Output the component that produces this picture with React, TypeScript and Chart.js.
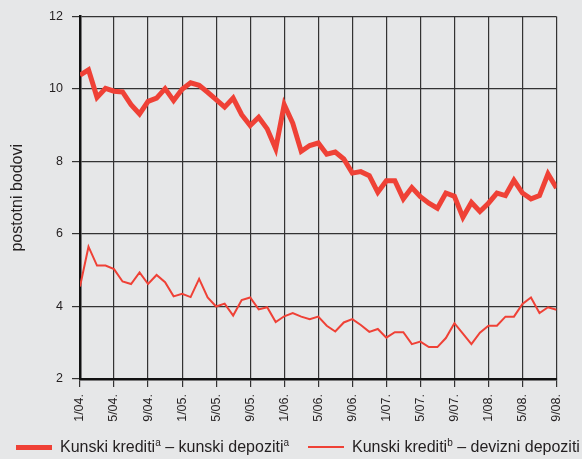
import React, { useEffect, useRef } from "react";
import { Chart, registerables } from "chart.js";

Chart.register(...registerables);

// Monthly data, 1/04 .. 9/08 (57 months)
const kunKun: number[] = [
  10.38, 10.53, 9.77, 10.02, 9.94, 9.92, 9.57, 9.31, 9.66, 9.75, 10.01, 9.68,
  9.99, 10.17, 10.1, 9.91, 9.71, 9.5, 9.75, 9.29, 8.99, 9.22, 8.9, 8.35,
  9.57, 9.06, 8.28, 8.44, 8.51, 8.2, 8.26, 8.07, 7.68, 7.72, 7.61, 7.15,
  7.47, 7.47, 6.97, 7.28, 7.03, 6.85, 6.71, 7.13, 7.04, 6.46, 6.87, 6.62,
  6.85, 7.13, 7.06, 7.48, 7.13, 6.97, 7.06, 7.66, 7.27,
];

const kunDev: number[] = [
  4.55, 5.65, 5.13, 5.13, 5.03, 4.69, 4.62, 4.94, 4.62, 4.87, 4.67, 4.28,
  4.35, 4.26, 4.76, 4.25, 4.0, 4.08, 3.75, 4.18, 4.25, 3.92, 3.98, 3.57,
  3.73, 3.82, 3.72, 3.65, 3.72, 3.47, 3.31, 3.56, 3.65, 3.49, 3.3, 3.38,
  3.14, 3.29, 3.29, 2.96, 3.03, 2.88, 2.88, 3.13, 3.54, 3.25, 2.96, 3.28,
  3.47, 3.47, 3.72, 3.72, 4.07, 4.25, 3.82, 3.98, 3.91,
];

// x tick labels, one every 4 months
const tickLabels: string[] = [
  "1/04.", "5/04.", "9/04.", "1/05.", "5/05.", "9/05.", "1/06.", "5/06.",
  "9/06.", "1/07.", "5/07.", "9/07.", "1/08.", "5/08.", "9/08.",
];

const seriesNames = ["Kunski krediti", "Kunski krediti"];

const BG = "rgb(230,231,232)";
const RED = "#ef4136";
const GRID = "#333333";
const TEXT = "#231f20";
const FONT = "'Liberation Sans', Arial, Helvetica, sans-serif";

export default function App() {
  const ref = useRef<HTMLCanvasElement | null>(null);

  useEffect(() => {
    document.body.style.margin = "0";
    document.body.style.background = BG;
    if (!ref.current) return;
    const chart = new Chart(ref.current, {
      type: "line",
      data: {
        datasets: [
          {
            label: seriesNames[0],
            data: kunKun.map((v, i) => ({ x: i, y: v })),
            borderColor: RED,
            borderWidth: 5,
            pointRadius: 0,
            tension: 0,
            fill: false,
          },
          {
            label: seriesNames[1],
            data: kunDev.map((v, i) => ({ x: i, y: v })),
            borderColor: RED,
            borderWidth: 2,
            pointRadius: 0,
            tension: 0,
            fill: false,
          },
        ],
      },
      options: {
        animation: false,
        responsive: false,
        maintainAspectRatio: false,
        layout: { padding: { left: 0, right: 25.5, top: 16, bottom: 20 } },
        plugins: { legend: { display: false }, tooltip: { enabled: false } },
        scales: {
          x: {
            type: "linear",
            min: 0,
            max: (tickLabels.length - 1) * 4,
            afterFit: (s: any) => {
              s.height = 60;
            },
            ticks: {
              stepSize: 4,
              autoSkip: false,
              minRotation: 90,
              maxRotation: 90,
              padding: 7,
              color: TEXT,
              font: { family: FONT, size: 12.5 },
              callback: (v: any) => tickLabels[Math.round(Number(v) / 4)] ?? "",
            },
            grid: {
              color: GRID,
              lineWidth: 1.2,
              tickLength: 8,
              drawTicks: true,
            },
            border: { color: "#111111", width: 2.5 },
          },
          y: {
            min: 2,
            max: 12,
            afterFit: (s: any) => {
              s.width = 80;
            },
            ticks: {
              stepSize: 2,
              padding: 9,
              color: TEXT,
              font: { family: FONT, size: 12.5 },
            },
            grid: { color: GRID, lineWidth: 1.2, tickLength: 8 },
            border: { color: "#111111", width: 2.5 },
            title: {
              display: true,
              text: "postotni bodovi",
              color: TEXT,
              font: { family: FONT, size: 16 },
              padding: { top: 8, bottom: 0 },
            },
          },
        },
      },
    });
    return () => chart.destroy();
  }, []);

  const textStyle: React.CSSProperties = {
    position: "absolute",
    top: 437,
    fontFamily: FONT,
    fontSize: 16,
    color: TEXT,
    whiteSpace: "nowrap",
    lineHeight: "20px",
  };
  const supStyle: React.CSSProperties = { fontSize: 10, verticalAlign: "6px", lineHeight: 0 };

  return (
    <div style={{ position: "relative", width: 582, height: 459, background: BG, overflow: "hidden" }}>
      <canvas ref={ref} width={582} height={459} style={{ display: "block" }} />
      <div style={{ position: "absolute", left: 16, top: 445, width: 36, height: 5, background: RED }} />
      <div style={{ ...textStyle, left: 60 }}>
        {seriesNames[0]}
        <sup style={supStyle}>a</sup> – kunski depoziti<sup style={supStyle}>a</sup>
      </div>
      <div style={{ position: "absolute", left: 308, top: 446, width: 36, height: 2, background: RED }} />
      <div style={{ ...textStyle, left: 352 }}>
        {seriesNames[1]}
        <sup style={supStyle}>b</sup> – devizni depoziti
      </div>
    </div>
  );
}
